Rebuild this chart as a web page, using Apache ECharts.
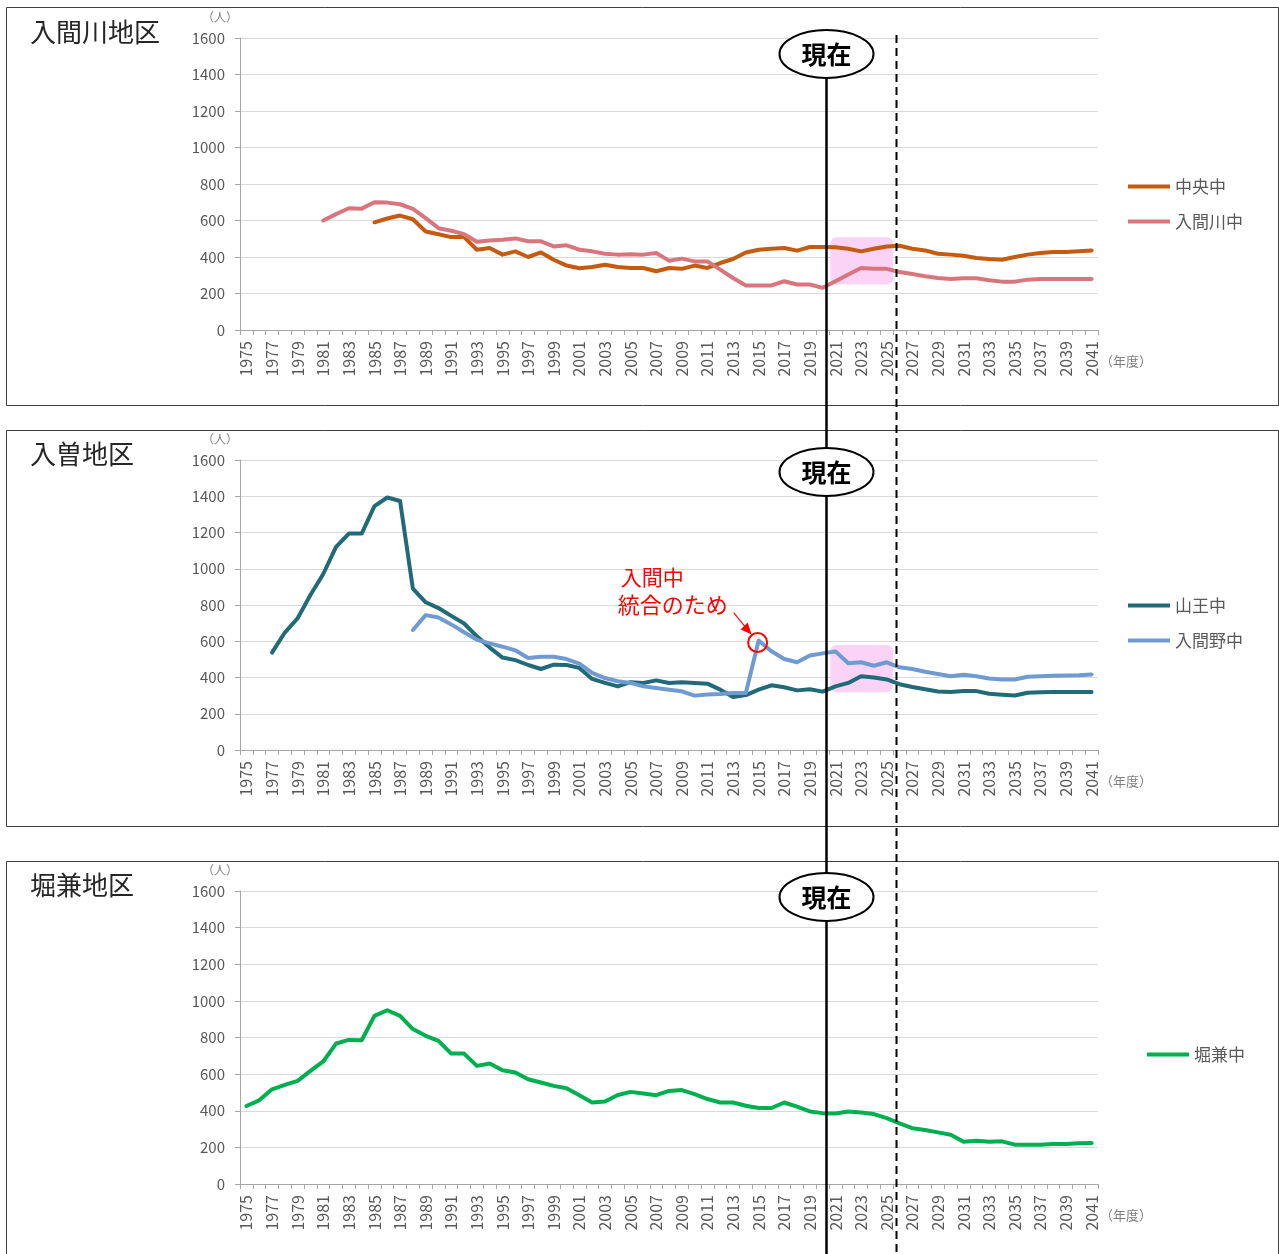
<!DOCTYPE html>
<html>
<head>
<meta charset="utf-8">
<script src="https://cdn.jsdelivr.net/npm/echarts@6/dist/echarts.min.js"></script>
<style>
  html, body { margin: 0; padding: 0; background: #ffffff; }
  #chart { width: 1279px; height: 1254px; }
</style>
</head>
<body>
<div id="chart"></div>
<script>
// ---- data: enrolment per school year (人) ----
const firstYear = 1975;
const lastYear = 2041;
const yTicks = [0, 200, 400, 600, 800, 1000, 1200, 1400, 1600];

// 入間川地区
const chuoStart = 1985;
const chuoValues = [590, 611, 627, 607, 540, 525, 509, 509, 440, 449, 413, 431, 400, 425, 385, 353, 338, 345, 358, 345,
  340, 340, 322, 340, 335, 353, 340, 367, 389, 425, 440, 445, 449, 435, 455, 455, 453, 445, 431, 445,
  458, 462, 445, 436, 418, 413, 407, 395, 389, 385, 400, 413, 422, 427, 427, 431, 435];
const irumagawaStart = 1981;
const irumagawaValues = [600, 635, 667, 665, 700, 698, 689, 664, 613, 558, 544, 525, 484, 491, 495, 502, 486, 486, 458, 464,
  440, 431, 418, 413, 415, 413, 422, 380, 391, 376, 376, 331, 285, 244, 244, 244, 267, 249, 249, 231,
  267, 304, 340, 336, 335, 318, 307, 295, 285, 280, 284, 284, 273, 265, 265, 276, 280, 280, 280, 280, 280];

// 入曽地区
const sannoStart = 1977;
const sannoValues = [537, 648, 727, 855, 971, 1121, 1194, 1194, 1345, 1393, 1374, 890, 815, 783, 740, 698, 627, 565, 510, 496,
  469, 447, 471, 469, 453, 392, 370, 351, 374, 370, 384, 370, 374, 370, 366, 333, 292, 303, 333, 357,
  346, 329, 335, 322, 351, 370, 407, 400, 389, 363, 348, 335, 323, 320, 325, 325, 310, 305, 301, 316,
  318, 320, 320, 320, 320];
const irumanoStart = 1988;
const irumanoValues = [662, 744, 731, 693, 650, 608, 588, 570, 550, 508, 514, 514, 502, 477, 425, 397, 379, 370, 351, 342,
  333, 324, 300, 306, 309, 314, 314, 604, 545, 502, 484, 521, 533, 544, 479, 484, 465, 484, 456, 447,
  432, 419, 407, 415, 407, 394, 389, 389, 404, 407, 409, 411, 413, 417];

// 堀兼地区
const horikaneStart = 1975;
const horikaneValues = [426, 457, 517, 541, 563, 618, 669, 767, 787, 785, 918, 949, 918, 846, 809, 782, 712, 712, 645, 658,
  621, 609, 572, 554, 536, 523, 485, 445, 450, 486, 503, 494, 485, 508, 513, 491, 464, 445, 445, 427,
  415, 415, 445, 422, 396, 387, 385, 396, 391, 382, 360, 331, 305, 295, 282, 269, 231, 236, 231, 233,
  215, 215, 215, 218, 218, 222, 224];

// annotation positions (school year)
const currentYear = 2020.25;     // 現在
const planYear = 2025.75;        // dashed boundary
const focusFrom = 2020.6, focusTo = 2025.5;
const focusTop = [508, 580];
const focusBottom = [250, 318];
const mergeYear = 2015;          // 入間中 統合

// ---- layout helpers ----
const labelYears = [];
for (let y = firstYear; y <= lastYear; y += 2) labelYears.push(y);
const tickYears = [];
for (let y = firstYear; y <= lastYear + 1; y++) tickYears.push(y - 0.5);

function pairs(start, values) {
  return values.map((v, i) => [start + i, v]);
}

const FONT = '"Noto Sans CJK JP", "Noto Sans", sans-serif';
const GRAY = '#595959';

const panels = [
  { title: '入間川地区', top: 38, height: 292, legendLeft: 1128, legendTop: 178,
    series: [
      { name: '中央中', color: '#C55A11', data: pairs(chuoStart, chuoValues) },
      { name: '入間川中', color: '#D9767D', data: pairs(irumagawaStart, irumagawaValues) }
    ] },
  { title: '入曽地区', top: 460, height: 290, legendLeft: 1128, legendTop: 597,
    series: [
      { name: '山王中', color: '#216A78', data: pairs(sannoStart, sannoValues) },
      { name: '入間野中', color: '#6F9BD1', data: pairs(irumanoStart, irumanoValues) }
    ] },
  { title: '堀兼地区', top: 891, height: 293, legendLeft: 1147, legendTop: 1046,
    series: [
      { name: '堀兼中', color: '#00B050', data: pairs(horikaneStart, horikaneValues) }
    ] }
];

const chart = echarts.init(document.getElementById('chart'), null, { renderer: 'canvas' });

const grid = [], xAxis = [], yAxis = [], series = [], legend = [];
panels.forEach((p, i) => {
  grid.push({ left: 240, width: 858, top: p.top, height: p.height });
  xAxis.push({
    gridIndex: i, type: 'value', min: firstYear - 0.5, max: lastYear + 0.5,
    splitLine: { show: false },
    axisLine: { show: true, lineStyle: { color: '#A6A6A6', width: 1 } },
    axisTick: { show: true, customValues: tickYears, length: 5, lineStyle: { color: '#A6A6A6' } },
    axisLabel: { customValues: labelYears, rotate: 90, fontSize: 16, color: GRAY, margin: 11,
      fontFamily: FONT, formatter: v => String(v) }
  });
  yAxis.push({
    gridIndex: i, type: 'value', min: 0, max: 1600, interval: 200,
    axisLine: { show: true, lineStyle: { color: '#A6A6A6', width: 1 } },
    axisTick: { show: true, length: 5, lineStyle: { color: '#A6A6A6' } },
    splitLine: { show: true, lineStyle: { color: '#D9D9D9', width: 1 } },
    axisLabel: { fontSize: 15, color: GRAY, margin: 15, fontFamily: FONT, formatter: v => String(v) }
  });
  p.series.forEach(s => {
    series.push({
      name: s.name, type: 'line', xAxisIndex: i, yAxisIndex: i,
      data: s.data, showSymbol: false, symbol: 'none',
      lineStyle: { color: s.color, width: 4, cap: 'round', join: 'round' },
      itemStyle: { color: s.color },
      z: 3
    });
  });
  legend.push({
    data: p.series.map(s => ({ name: s.name, icon: 'rect' })),
    orient: 'vertical', left: p.legendLeft, top: p.legendTop, padding: 0,
    itemWidth: 42, itemHeight: 4, itemGap: 18,
    textStyle: { fontSize: 17, color: GRAY, fontFamily: FONT },
    selectedMode: false
  });
});

chart.setOption({
  backgroundColor: '#ffffff',
  animation: false,
  grid, xAxis, yAxis, series, legend
});

// ---- decorations positioned through the axes ----
const px = (gi, x, y) => chart.convertToPixel({ gridIndex: gi }, [x, y]);
const graphics = [];

// panel frames
const frames = [[6, 7, 398], [6, 430, 396], [6, 861, 420]];
frames.forEach(f => {
  graphics.push({ type: 'rect', shape: { x: f[0] + 0.5, y: f[1] + 0.5, width: 1272, height: f[2] },
    style: { fill: null, stroke: '#3F3F3F', lineWidth: 1 }, z: 0, silent: true });
});

// focus boxes (pink)
[0, 1].forEach(gi => {
  const a = px(gi, focusFrom, focusTop[gi]);
  const b = px(gi, focusTo, focusBottom[gi]);
  graphics.push({ type: 'rect', shape: { x: a[0], y: a[1], width: b[0] - a[0], height: b[1] - a[1], r: 6 },
    style: { fill: '#FAD3F7' }, z: 1, silent: true });
});

panels.forEach((p, i) => {
  // titles
  graphics.push({ type: 'text', left: 30, top: p.top - 19,
    style: { text: p.title, font: '26px ' + FONT, fill: '#262626' }, z: 5 });
  // unit labels
  const top = px(i, firstYear - 0.5, 1600);
  graphics.push({ type: 'text', x: top[0] - 20, y: top[1] - 21,
    style: { text: '（人）', font: '12px ' + FONT, fill: '#7F7F7F', textAlign: 'center', textVerticalAlign: 'middle' }, z: 5 });
  const end = px(i, lastYear + 0.5, 0);
  graphics.push({ type: 'text', x: end[0] + 2, y: end[1] + 31,
    style: { text: '（年度）', font: '13px ' + FONT, fill: '#7F7F7F', textAlign: 'left', textVerticalAlign: 'middle' }, z: 5 });
});

// 現在 line and dashed boundary
const xNow = Math.round(px(0, currentYear, 0)[0]) + 0.5;
const xPlan = Math.round(px(0, planYear, 0)[0]) + 0.5;
graphics.push({ type: 'line', shape: { x1: xNow, y1: 60, x2: xNow, y2: 1254 },
  style: { stroke: '#000000', lineWidth: 2.5 }, z: 20, silent: true });
graphics.push({ type: 'line', shape: { x1: xPlan, y1: 35, x2: xPlan, y2: 1254 },
  style: { stroke: '#000000', lineWidth: 2, lineDash: [8, 5] }, z: 20, silent: true });

[54, 472, 897].forEach(cy => {
  graphics.push({ type: 'ellipse', shape: { cx: xNow, cy: cy, rx: 47, ry: 24 },
    style: { fill: '#ffffff', stroke: '#000000', lineWidth: 2 }, z: 30, silent: true });
  graphics.push({ type: 'text', x: xNow, y: cy,
    style: { text: '現在', font: 'bold 25px ' + FONT, fill: '#000000', textAlign: 'center', textVerticalAlign: 'middle' },
    z: 31, silent: true });
});

// 入間中 統合 annotation
const m = px(1, mergeYear, irumanoValues[mergeYear - irumanoStart]);
graphics.push({ type: 'circle', shape: { cx: m[0] - 1, cy: m[1] + 2, r: 9.5 },
  style: { fill: null, stroke: '#FF0000', lineWidth: 2 }, z: 25, silent: true });
graphics.push({ type: 'text', x: m[0] - 138, y: m[1] - 64,
  style: { text: '入間中', font: '21px ' + FONT, fill: '#FF0000', textAlign: 'left', textVerticalAlign: 'middle' }, z: 25 });
graphics.push({ type: 'text', x: m[0] - 141, y: m[1] - 36,
  style: { text: '統合のため', font: '22px ' + FONT, fill: '#FF0000', textAlign: 'left', textVerticalAlign: 'middle' }, z: 25 });
const a0 = [m[0] - 25, m[1] - 28];
const tip = [m[0] - 7, m[1] - 6];
graphics.push({ type: 'line', shape: { x1: a0[0], y1: a0[1], x2: tip[0] - 5, y2: tip[1] - 6 },
  style: { stroke: '#FF0000', lineWidth: 1.2 }, z: 25, silent: true });
graphics.push({ type: 'polygon', shape: { points: [[tip[0], tip[1]], [tip[0] - 11, tip[1] - 5], [tip[0] - 4, tip[1] - 12]] },
  style: { fill: '#FF0000' }, z: 25, silent: true });

chart.setOption({ graphic: graphics });
</script>
</body>
</html>
